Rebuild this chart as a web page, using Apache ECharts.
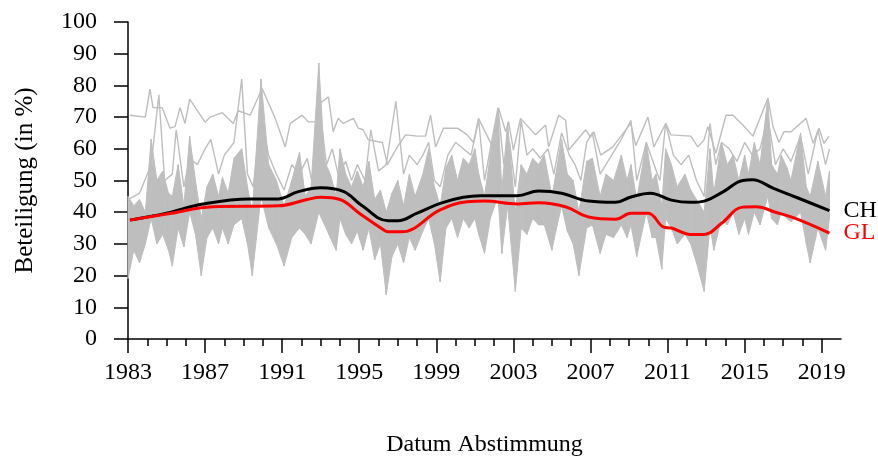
<!DOCTYPE html>
<html>
<head>
<meta charset="utf-8">
<title>Stimmbeteiligung</title>
<script src="https://cdn.jsdelivr.net/npm/echarts@6/dist/echarts.min.js"></script>
<style>
    html, body { margin: 0; padding: 0; background: #fff; }
    #beteiligungChart { width: 878px; height: 459px; }
</style>
</head>
<body>
<div id="beteiligungChart"></div>
<script>
    // Abstimmungstermine (Jahr als Dezimalzahl)
    var voteDates = [
        1983.0, 1983.3, 1983.6, 1983.9, 1984.2, 1984.5, 1984.8, 1985.1, 1985.3, 1985.6,
        1985.9, 1986.2, 1986.5, 1986.8, 1987.1, 1987.4, 1987.7, 1987.9, 1988.2, 1988.5,
        1988.9, 1989.2, 1989.45, 1989.9, 1990.3, 1990.7, 1991.1, 1991.5, 1991.9, 1992.2,
        1992.5, 1992.9, 1993.2, 1993.5, 1993.8, 1994.0, 1994.3, 1994.6, 1994.9, 1995.2,
        1995.5, 1995.8, 1996.1, 1996.4, 1996.7, 1997.0, 1997.3, 1997.6, 1997.9, 1998.3,
        1998.6, 1998.9, 1999.2, 1999.5, 1999.8, 2000.1, 2000.4, 2000.7, 2001.0, 2001.2,
        2001.5, 2001.8, 2002.2, 2002.4, 2002.7, 2003.1, 2003.4, 2003.7, 2004.0, 2004.3,
        2004.6, 2005.0, 2005.2, 2005.5, 2005.8, 2006.1, 2006.4, 2006.8, 2007.1, 2007.5,
        2007.8, 2008.2, 2008.6, 2008.9, 2009.1, 2009.4, 2009.9, 2010.2, 2010.4, 2010.7,
        2010.9, 2011.2, 2011.5, 2011.9, 2012.2, 2012.5, 2012.9, 2013.2, 2013.4, 2013.8,
        2014.1, 2014.4, 2014.7, 2015.0, 2015.2, 2015.5, 2015.8, 2016.2, 2016.4, 2016.7,
        2016.9, 2017.2, 2017.4, 2017.9, 2018.2, 2018.4, 2018.8, 2019.2, 2019.4
    ];
    // hoechste / tiefste Beteiligung der Kantone pro Termin
    var cantonMax = [
        45, 42, 44, 40, 63, 50, 53, 46, 45, 55,
        42, 64, 50, 38, 48, 52, 45, 51, 46, 57,
        60, 48, 40, 82, 55, 50, 42, 50, 59, 45,
        48, 87, 56, 52, 45, 60, 52, 48, 53, 48,
        56, 44, 47, 40, 46, 50, 42, 52, 45, 52,
        60, 48, 42, 54, 58, 50, 57, 55, 60, 52,
        45, 58, 72, 47, 68, 40, 55, 52, 57, 55,
        58, 45, 52, 63, 52, 50, 40, 56, 57, 45,
        52, 50, 58, 50, 55, 44, 62, 50, 52, 42,
        60, 55, 48, 52, 47, 44, 40, 60, 46, 62,
        55, 58, 50, 58, 52, 62, 55, 76, 55, 52,
        58, 54, 50, 65, 48, 45, 56, 45, 53
    ];
    var cantonMin = [
        19, 28, 24, 30, 38, 30, 33, 28, 23, 35,
        29, 40, 33, 20, 32, 35, 30, 35, 30, 36,
        38, 30, 20, 45, 35, 30, 23, 32, 35, 33,
        30, 40, 36, 32, 28, 38, 33, 30, 34, 28,
        35, 25, 30, 14, 26, 30, 24, 32, 28, 34,
        38, 30, 18, 35, 38, 32, 38, 35, 38, 33,
        27, 38, 45, 27, 42, 15, 35, 33, 38, 36,
        36, 28, 34, 42, 34, 30, 20, 35, 36, 27,
        33, 32, 36, 32, 36, 26, 40, 32, 32, 22,
        38, 35, 30, 33, 30, 24, 15, 36, 28, 38,
        36, 40, 33, 38, 33, 40, 36, 45, 38, 36,
        40, 38, 37, 40, 30, 24, 35, 28, 38
    ];

    // einzelner Kanton mit Ausreissern nach oben
    var upperDates = [
        1983.0, 1983.6, 1984.2, 1984.6, 1984.9, 1985.3, 1985.5, 1985.9, 1986.2, 1986.6,
        1987.0, 1987.3, 1987.7, 1988.0, 1988.5, 1988.9, 1989.2, 1989.5, 1989.9, 1990.3,
        1990.7, 1991.1, 1991.5, 1991.9, 1992.3, 1992.6, 1992.9, 1993.3, 1993.6, 1993.9,
        1994.3, 1994.6, 1994.9, 1995.3, 1995.6, 1996.0, 1996.4, 1996.9, 1997.3, 1997.6,
        1998.0, 1998.3, 1998.6, 1998.9, 1999.2, 1999.6, 2000.0, 2000.4, 2000.8, 2001.2,
        2001.5, 2001.8, 2002.2, 2002.5, 2002.8, 2003.1, 2003.4, 2003.7, 2004.0, 2004.4,
        2004.8, 2005.1, 2005.5, 2005.9, 2006.2, 2006.5, 2006.8, 2007.1, 2007.5, 2007.9,
        2008.3, 2008.6, 2009.1, 2009.4, 2009.9, 2010.3, 2010.6, 2010.9, 2011.3, 2011.7,
        2012.1, 2012.5, 2012.9, 2013.2, 2013.5, 2013.8, 2014.2, 2014.6, 2015.0, 2015.4,
        2015.8, 2016.2, 2016.6, 2017.0, 2017.4, 2017.9, 2018.3, 2018.8, 2019.2, 2019.4
    ];
    var upperValues = [
        44, 46, 55, 77, 50, 52, 66, 48, 57, 55,
        60, 63, 52, 58, 62, 82, 52, 48, 70, 58,
        52, 47, 55, 52, 57, 48, 75, 55, 60, 52,
        56, 50, 55, 50, 66, 53, 55, 75, 52, 58,
        55, 58, 62, 50, 48, 58, 62, 60, 58, 69,
        50, 60, 73, 55, 62, 48, 69, 58, 60, 57,
        60, 52, 65, 58, 55, 50, 62, 65, 52, 56,
        60, 63, 69, 50, 62, 55, 50, 68, 58, 55,
        58, 50, 45, 68, 55, 62, 60, 56, 62, 58,
        60, 70, 55, 60, 56, 64, 52, 66, 55, 60
    ];

    // Schaffhausen (Stimmpflicht)
    var shDates = [
        1983.1, 1983.9, 1984.14, 1984.3, 1984.77, 1985.18, 1985.44, 1985.7, 1985.96, 1986.2,
        1987.0, 1987.26, 1987.9, 1988.46, 1988.72, 1989.34, 1989.96, 1990.64, 1991.16, 1991.42,
        1992.04, 1992.36, 1992.72, 1992.98, 1993.4, 1993.65, 1993.9, 1994.17, 1994.7, 1994.95,
        1995.2, 1995.47, 1996.2, 1996.46, 1996.98, 1997.4, 1998.02, 1998.44, 1998.7, 1998.96,
        1999.37, 2000.1, 2000.6, 2000.93, 2001.19, 2001.92, 2002.23, 2002.6, 2002.75, 2003.0,
        2003.37, 2004.15, 2004.67, 2004.83, 2005.35, 2005.71, 2005.87, 2006.75, 2007.0, 2007.17,
        2007.53, 2008.16, 2009.09, 2009.35, 2009.98, 2010.29, 2010.91, 2011.17, 2012.21, 2012.57,
        2012.89, 2013.09, 2013.51, 2014.03, 2014.39, 2014.91, 2015.43, 2016.21, 2016.47, 2016.78,
        2017.04, 2017.41, 2018.19, 2018.55, 2018.86, 2019.12, 2019.38
    ];
    var shValues = [
        70.6, 70, 78.8, 73, 73, 66.5, 67, 73, 68, 75.7,
        68.4, 70, 71.4, 68, 72, 70.6, 79, 69.6, 60.6, 68,
        70.6, 68.5, 68.5, 74.4, 76.4, 65.4, 69.6, 68, 69.6, 66.5,
        66, 62.8, 62, 55, 60.6, 64.4, 64, 64, 70.6, 60.6,
        66.5, 66.5, 64.4, 62, 69.6, 60.6, 72.8, 65.4, 68.6, 59.6,
        69.6, 64.4, 67.5, 60.6, 70.6, 69, 59.6, 66, 63.7, 65.4,
        58, 60.6, 68, 61, 70, 60.6, 68, 64.4, 64, 60.6,
        62.8, 67, 58.6, 70.6, 70.6, 67.5, 64, 76, 67, 62,
        65.4, 65.4, 69.6, 61.7, 66.5, 61.7, 64
    ];

    // geglaettete Beteiligung Schweiz (CH) und Glarus (GL)
    var chDates = [
        1983.1, 1985.0, 1986.9, 1989.3, 1990.8, 1991.8, 1993.0, 1994.2, 1995.1, 1996.5,
        1997.0, 1998.0, 1999.2, 2000.4, 2001.3, 2003.2, 2004.3, 2005.5, 2006.9, 2008.3,
        2009.1, 2010.1, 2011.2, 2012.2, 2012.9, 2013.9, 2014.9, 2015.4, 2016.5, 2017.8,
        2019.4
    ];
    var chValues = [
        37.5, 39.7, 42.6, 44.2, 44.2, 46.4, 47.7, 46.5, 42.3, 37.3,
        37.3, 39.7, 42.8, 44.7, 45.2, 45.2, 46.7, 46, 43.5, 43.1,
        44.8, 46, 43.8, 43.1, 43.5, 46.5, 50, 50.2, 47.5, 44.4,
        40.5
    ];
    var glDates = [
        1983.1, 1985.0, 1987.4, 1990.8, 1992.3, 1993.0, 1994.0, 1995.0, 1996.2, 1996.5,
        1997.2, 1999.2, 2000.6, 2001.5, 2003.2, 2004.3, 2005.7, 2006.9, 2008.3, 2009.1,
        2010.0, 2010.8, 2011.2, 2012.2, 2012.9, 2013.8, 2014.9, 2015.6, 2016.6, 2017.6,
        2019.4
    ];
    var glValues = [
        37.5, 39.4, 41.7, 42, 44, 44.7, 44, 39.7, 34.7, 33.8,
        33.8, 40.7, 43.3, 43.5, 42.6, 43, 41.7, 38.5, 37.8, 39.7,
        39.7, 35.3, 35, 33, 33, 36.5, 41.6, 41.7, 40, 38.1,
        33.4
    ];

    // Achsenbeschriftung
    var yearTicks = [];
    for (var y = 1983; y <= 2019; y++) {
        yearTicks.push(y);
    }
    var yearLabels = [1983, 1987, 1991, 1995, 1999, 2003, 2007, 2011, 2015, 2019];

    function pairs(xs, ys) {
        var out = [];
        for (var i = 0; i < xs.length; i++) {
            out.push([xs[i], ys[i]]);
        }
        return out;
    }

    // Streifen zwischen tiefstem und hoechstem Kanton, Segment fuer Segment
    var bandSegments = [];
    for (var i = 0; i < voteDates.length - 1; i++) {
        bandSegments.push([
            voteDates[i], cantonMin[i], cantonMax[i],
            voteDates[i + 1], cantonMin[i + 1], cantonMax[i + 1]
        ]);
    }

    var grau = '#bebebe';
    var schrift = 'Liberation Serif';

    var myChart = echarts.init(document.getElementById('beteiligungChart'));

    var option = {
        animation: false,
        grid: {
            left: 128,
            right: 37,
            top: 22,
            bottom: 120,
            outerBoundsMode: 'none'
        },
        xAxis: [
            {
                type: 'value',
                position: 'bottom',
                min: 1983,
                max: 2020,
                name: 'Datum Abstimmung',
                nameLocation: 'middle',
                nameGap: 94,
                nameTextStyle: { fontFamily: schrift, fontSize: 24, color: '#000' },
                splitLine: { show: false },
                axisLine: { show: true, lineStyle: { color: '#000', width: 1.5 } },
                axisTick: {
                    show: true,
                    length: 7,
                    customValues: yearTicks,
                    lineStyle: { color: '#000', width: 1.5 }
                },
                axisLabel: {
                    customValues: yearLabels,
                    margin: 22,
                    fontFamily: schrift,
                    fontSize: 24,
                    color: '#000',
                    formatter: function (v) { return String(v); }
                }
            },
            {
                // lange Striche bei den beschrifteten Jahren
                type: 'value',
                position: 'bottom',
                min: 1983,
                max: 2020,
                splitLine: { show: false },
                axisLine: { show: false },
                axisTick: {
                    show: true,
                    length: 14,
                    customValues: yearLabels,
                    lineStyle: { color: '#000', width: 1.5 }
                },
                axisLabel: { show: false }
            }
        ],
        yAxis: {
            type: 'value',
            min: 0,
            max: 100,
            interval: 10,
            name: 'Beteiligung (in %)',
            nameLocation: 'middle',
            nameGap: 90,
            nameTextStyle: { fontFamily: schrift, fontSize: 25, color: '#000' },
            splitLine: { show: false },
            axisLine: { show: true, lineStyle: { color: '#000', width: 1.5 } },
            axisTick: { show: true, length: 14, lineStyle: { color: '#000', width: 1.5 } },
            axisLabel: { margin: 31, fontFamily: schrift, fontSize: 24, color: '#000' }
        },
        series: [
            {
                name: 'kantone',
                type: 'custom',
                data: bandSegments,
                encode: { x: [0, 3], y: [1, 2, 4, 5] },
                renderItem: function (params, api) {
                    var a0 = api.coord([api.value(0), api.value(1)]);
                    var a1 = api.coord([api.value(3), api.value(4)]);
                    var b1 = api.coord([api.value(3), api.value(5)]);
                    var b0 = api.coord([api.value(0), api.value(2)]);
                    return {
                        type: 'polygon',
                        shape: { points: [a0, a1, b1, b0] },
                        style: { fill: grau, stroke: grau, lineWidth: 1 }
                    };
                },
                z: 1
            },
            {
                name: 'oben',
                type: 'line',
                data: pairs(upperDates, upperValues),
                symbol: 'none',
                lineStyle: { color: grau, width: 1.4 },
                z: 2
            },
            {
                name: 'SH',
                type: 'line',
                data: pairs(shDates, shValues),
                symbol: 'none',
                lineStyle: { color: grau, width: 1.4 },
                z: 2
            },
            {
                name: 'CH',
                type: 'line',
                data: pairs(chDates, chValues),
                symbol: 'none',
                smooth: 0.4,
                lineStyle: { color: '#000', width: 3 },
                endLabel: {
                    show: true,
                    formatter: 'CH',
                    distance: 14,
                    fontFamily: schrift,
                    fontSize: 24,
                    color: '#000'
                },
                z: 4
            },
            {
                name: 'GL',
                type: 'line',
                data: pairs(glDates, glValues),
                symbol: 'none',
                smooth: 0.4,
                lineStyle: { color: '#ff0000', width: 3 },
                endLabel: {
                    show: true,
                    formatter: 'GL',
                    distance: 14,
                    fontFamily: schrift,
                    fontSize: 24,
                    color: '#ff0000'
                },
                z: 5
            }
        ]
    };

    myChart.setOption(option);
</script>
</body>
</html>
